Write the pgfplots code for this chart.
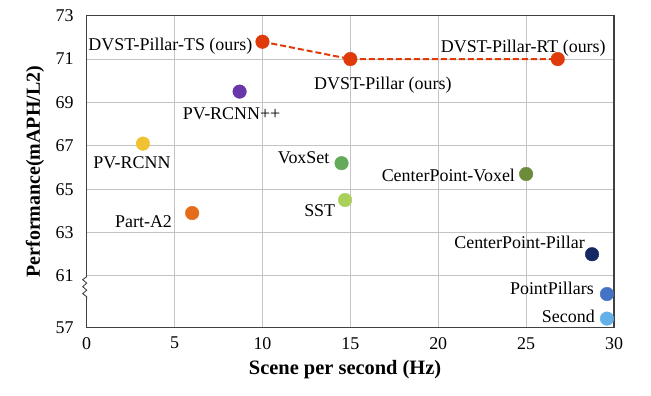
\documentclass[border=0pt]{standalone}
\usepackage{pgfplots}
\pgfplotsset{compat=1.18}
\usepackage{fontspec}
\setmainfont{Liberation Serif}
\definecolor{cRed}{HTML}{E03A0A}
\definecolor{cOrange}{HTML}{E46C1A}
\definecolor{cYellow}{HTML}{F0C232}
\definecolor{cPurple}{HTML}{6838A8}
\definecolor{cGreen}{HTML}{64AA5A}
\definecolor{cLime}{HTML}{A8D05A}
\definecolor{cOlive}{HTML}{6C8C3C}
\definecolor{cNavy}{HTML}{142864}
\definecolor{cBlue}{HTML}{4472C4}
\definecolor{cSky}{HTML}{64B0E8}
\definecolor{frame}{HTML}{404040}
\definecolor{gridc}{HTML}{C4C4C4}
\begin{document}
\begin{tikzpicture}[lab/.style={inner sep=0pt, font=\fontsize{18}{21}\selectfont, text=black}]
\useasboundingbox (-86.7bp,-68.3bp) rectangle (564.3bp,327.7bp);
\begin{axis}[
  at={(0,0)}, anchor=south west,
  scale only axis, width=527.3bp, height=312bp,
  xmin=0, xmax=30, ymin=57, ymax=73,
  y coord trafo/.code={\pgfmathparse{#1<61 ? 61-(61-#1)*0.597 : #1}},
  xtick={0,5,...,30},
  ytick={57,61,63,65,67,69,71,73},
  yticklabels={57,61,63,65,67,69,71,73},
  major tick length=0pt,
  grid=major,
  major grid style={color=gridc, line width=0.9bp},
  axis line style={color=frame, line width=1.3bp},
  tick label style={font=\fontsize{18}{21}\selectfont},
  /pgf/number format/assume math mode=true,
  xticklabel style={yshift=-6bp},
  yticklabel style={xshift=-9.5bp},
  every axis y label/.style={at={(axis description cs:-0.098,0.5)}, rotate=90, anchor=center},
  every axis x label/.style={at={(axis description cs:0.49,-0.1356)}, anchor=center},
  ylabel={\fontsize{20}{23}\selectfont\bfseries Performance(mAPH/L2)},
  xlabel={\fontsize{20.5}{23}\selectfont\bfseries Scene per second (Hz)},
  clip=false,
  mark size=6.8bp,
]
% dashed line through our methods
\addplot[cRed, line width=2bp, dash pattern=on 6bp off 3bp, mark=none] coordinates {(10.0,71.8) (15.0,71.0) (26.8,71.0)};
\addplot[only marks, mark=*, cRed] coordinates {(10.0,71.8)} node[lab, anchor=east, xshift=-10bp, yshift=-4.7bp] {DVST-Pillar-TS (ours)};
\addplot[only marks, mark=*, cRed] coordinates {(15.0,71.0)} node[lab, anchor=center, xshift=32.5bp, yshift=-26bp] {DVST-Pillar (ours)};
\addplot[only marks, mark=*, cRed] coordinates {(26.8,71.0)} node[lab, anchor=center, xshift=-34.5bp, yshift=11bp] {DVST-Pillar-RT (ours)};
\addplot[only marks, mark=*, cPurple] coordinates {(8.7,69.5)} node[lab, anchor=center, xshift=-8bp, yshift=-22bp] {PV-RCNN++};
\addplot[only marks, mark=*, cYellow] coordinates {(3.2,67.1)} node[lab, anchor=center, xshift=-11bp, yshift=-19bp] {PV-RCNN};
\addplot[only marks, mark=*, cOrange] coordinates {(6.0,63.9)} node[lab, anchor=east, xshift=-20bp, yshift=-8.7bp] {Part-A2};
\addplot[only marks, mark=*, cGreen] coordinates {(14.5,66.2)} node[lab, anchor=east, xshift=-12bp, yshift=5.4bp] {VoxSet};
\addplot[only marks, mark=*, cLime] coordinates {(14.7,64.5)} node[lab, anchor=east, xshift=-9.7bp, yshift=-11bp] {SST};
\addplot[only marks, mark=*, cOlive] coordinates {(25.0,65.7)} node[lab, anchor=east, xshift=-11bp, yshift=-1.7bp] {CenterPoint-Voxel};
\addplot[only marks, mark=*, cNavy] coordinates {(28.75,62.0)} node[lab, anchor=east, xshift=-7bp, yshift=11.4bp] {CenterPoint-Pillar};
\addplot[only marks, mark=*, cBlue] coordinates {(29.6,59.6)} node[lab, anchor=east, xshift=-13bp, yshift=6bp] {PointPillars};
\addplot[only marks, mark=*, cSky] coordinates {(29.6,57.7)} node[lab, anchor=east, xshift=-12bp, yshift=2.3bp] {Second};
% axis break
\coordinate (brk) at (rel axis cs:0,0.1635);
\draw[white, line width=3bp] (brk) -- ([yshift=-22.6bp]brk);
\draw[frame, line width=0.9bp] (brk) -- ([xshift=-4bp,yshift=-3bp]brk) -- ([yshift=-6.5bp]brk) -- ([xshift=-4bp,yshift=-10bp]brk) -- ([yshift=-13.5bp]brk) -- ([xshift=-4bp,yshift=-17bp]brk) -- ([yshift=-20bp]brk) -- ([yshift=-22.6bp]brk);
\end{axis}
\end{tikzpicture}
\end{document}
